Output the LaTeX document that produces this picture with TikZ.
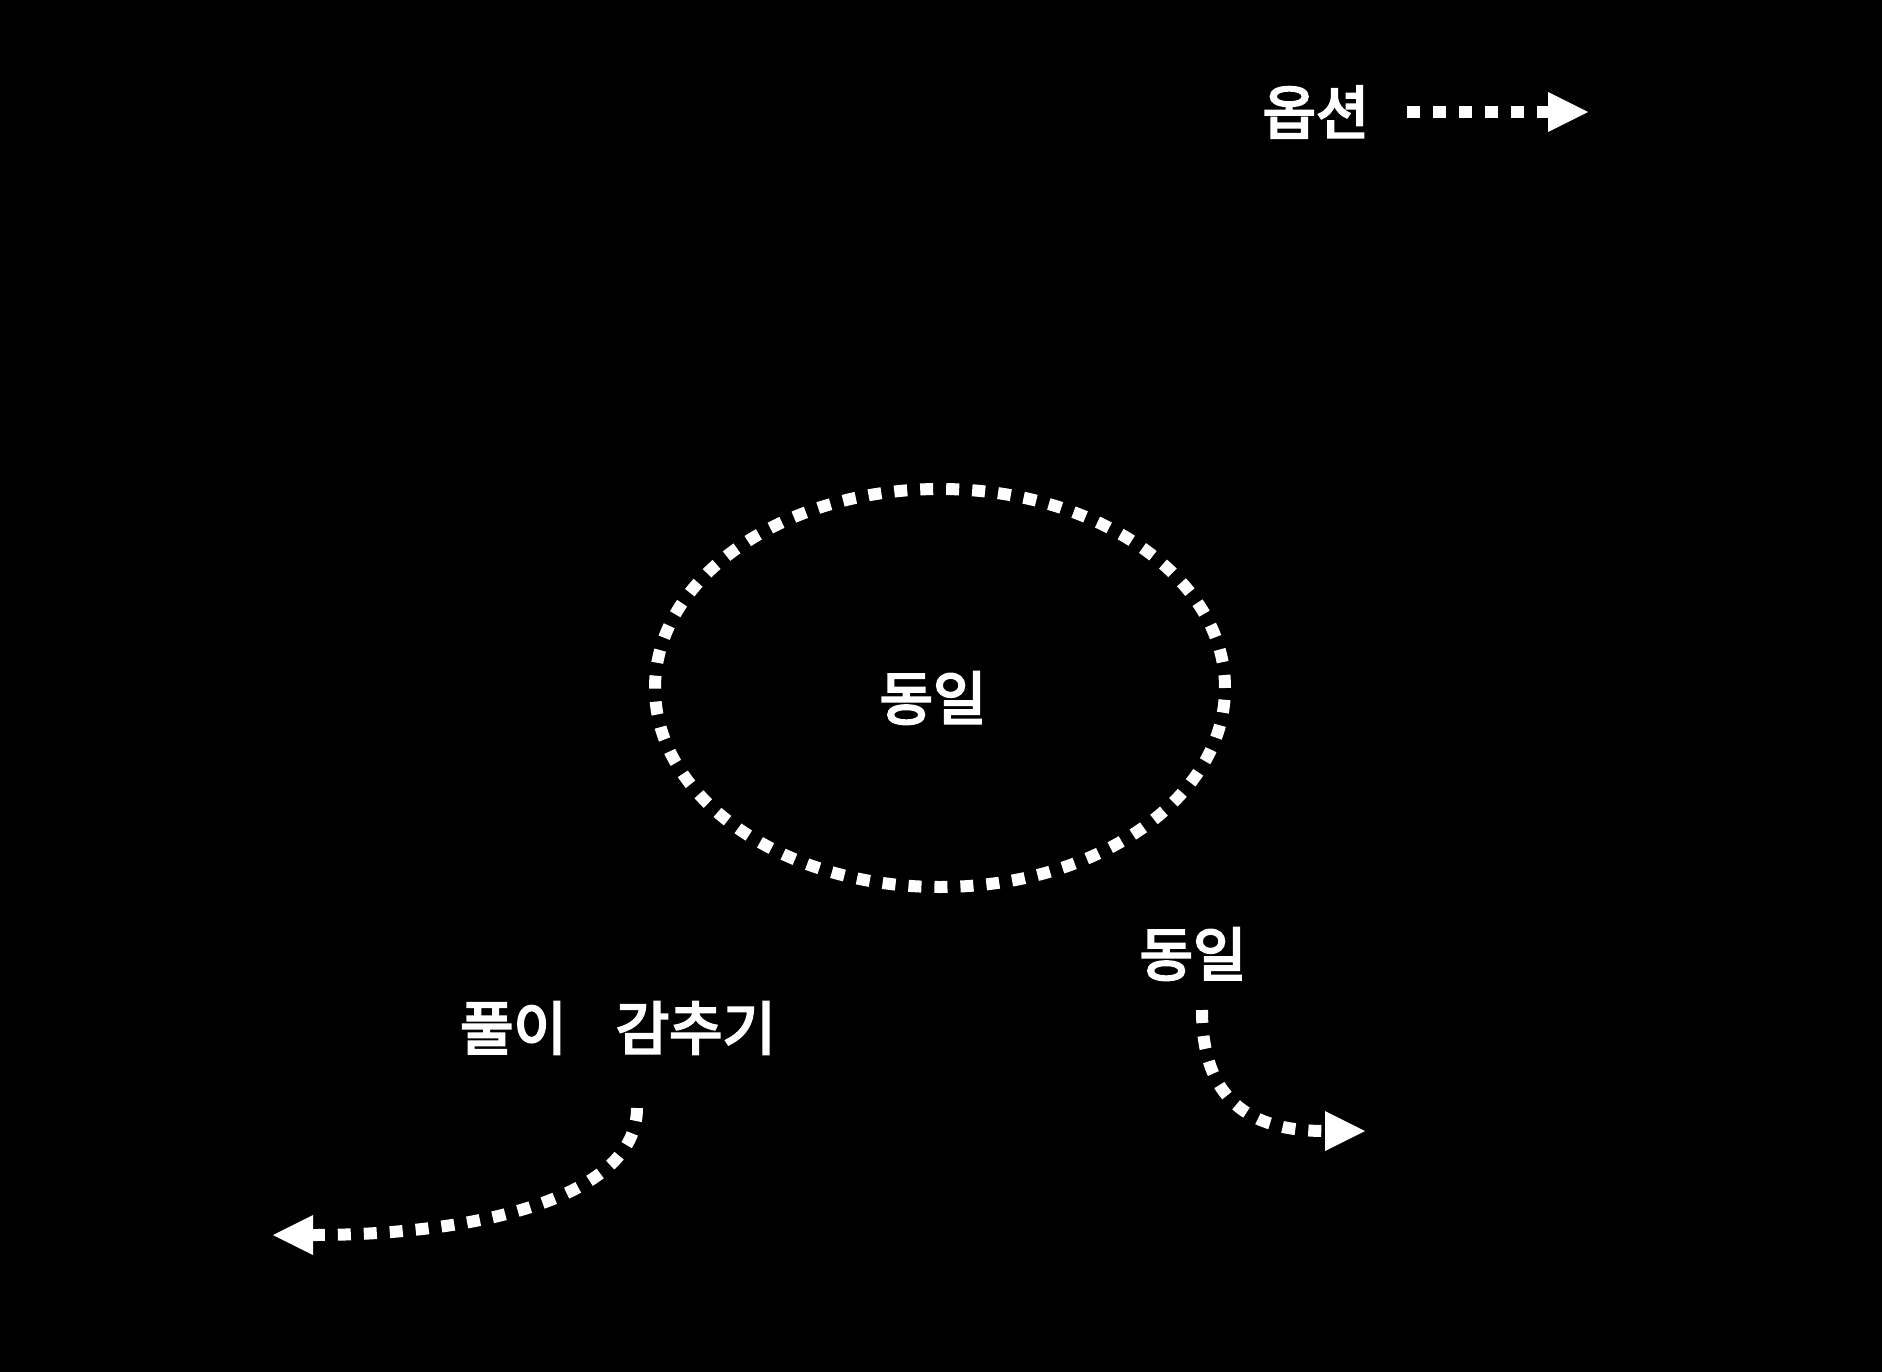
\documentclass[tikz,border=0pt]{standalone}
\usepackage{fontspec}
\usepackage{tikz}
\usetikzlibrary{shapes,arrows.meta}
\newfontfamily\kofont{Noto Sans CJK KR}[FakeBold=4]

\begin{document}
\begin{tikzpicture}[x=1pt, y=-1pt, >={Triangle[length=40pt,width=40pt,line width=0pt]}]
    \tikzstyle{word} = [text=white, font=\kofont\fontsize{58}{64}\selectfont, inner sep=0pt]
    \tikzstyle{dots} = [draw=white, line width=12pt, dash pattern=on 13pt off 13pt]
    \tikzstyle{line} = [dots, ->]

    \fill [black] (0,0) rectangle (1882,1372);

    \node [word] (option) at (1316,112) {옵션};
    \node [dots, ellipse, minimum width=570pt, minimum height=398pt] (loop) at (940,688) {};
    \node [word] (samein) at (933,698) {동일};
    \node [word] (sameout) at (1193,954) {동일};
    \node [word] (hide) at (618,1028) {풀이 \hspace{36pt}감추기};

    \coordinate (optfrom) at (1407,112);
    \coordinate (optto) at (1588,112);
    \coordinate (samefrom) at (1202,1010);
    \coordinate (sameto) at (1365,1131);
    \coordinate (hidefrom) at (637,1108);
    \coordinate (hideto) at (273,1235);

    \path [line] (optfrom) -- (optto);
    \path [line] (samefrom) .. controls (1202,1100) and (1250,1131) .. (sameto);
    \path [line] (hidefrom) .. controls (637,1200) and (470,1235) .. (hideto);
\end{tikzpicture}
\end{document}
